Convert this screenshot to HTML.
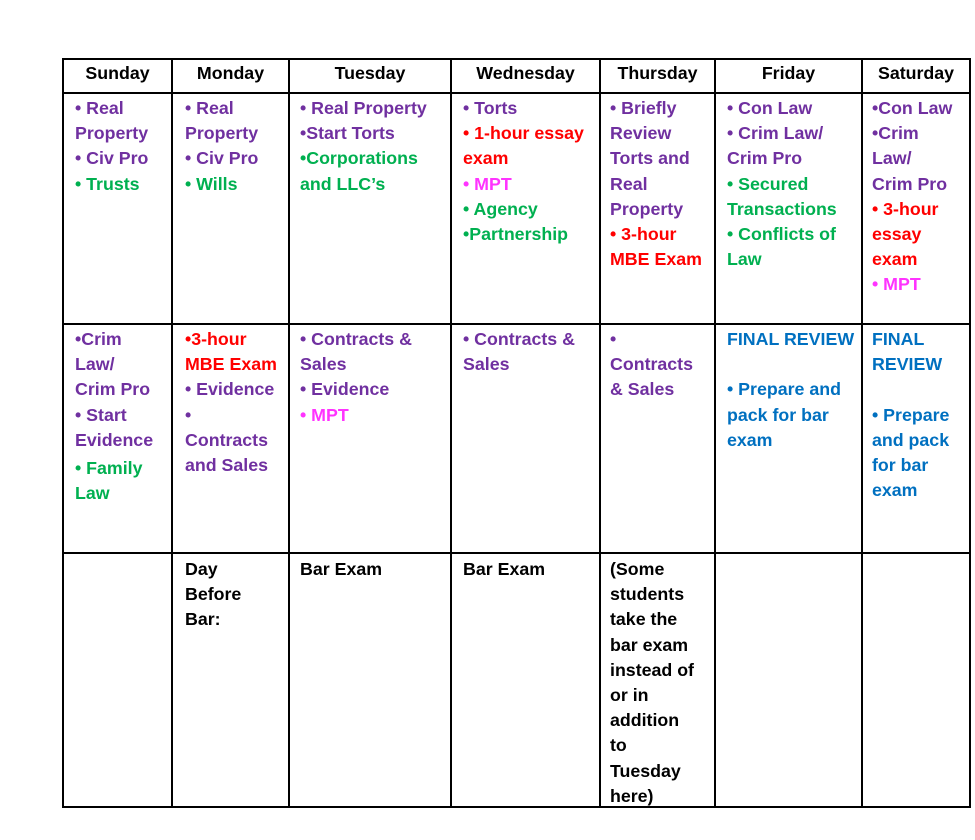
<!DOCTYPE html>
<html><head><style>
body{margin:0;width:975px;height:840px;background:#fff;position:relative;font-family:"Liberation Sans",Arial,sans-serif;font-weight:bold;font-size:17.8px;overflow:hidden}
.h{position:absolute;top:61px;height:33px;line-height:24px;text-align:center;color:#000}
.l{position:absolute;background:#000}
.c{position:absolute;line-height:25.2px;white-space:nowrap}
.p{color:#7030a0}.g{color:#00b050}.r{color:#ff0000}.m{color:#ff33ff}.b{color:#0070c0}.k{color:#000}
</style></head><body>
<div class="l" style="left:62px;top:58px;width:909px;height:2px"></div>
<div class="l" style="left:62px;top:92px;width:909px;height:2px"></div>
<div class="l" style="left:62px;top:323px;width:909px;height:2px"></div>
<div class="l" style="left:62px;top:552px;width:909px;height:2px"></div>
<div class="l" style="left:62px;top:806px;width:909px;height:2px"></div>
<div class="l" style="left:62px;top:58px;width:2px;height:750px"></div>
<div class="l" style="left:171px;top:58px;width:2px;height:750px"></div>
<div class="l" style="left:288px;top:58px;width:2px;height:750px"></div>
<div class="l" style="left:450px;top:58px;width:2px;height:750px"></div>
<div class="l" style="left:599px;top:58px;width:2px;height:750px"></div>
<div class="l" style="left:714px;top:58px;width:2px;height:750px"></div>
<div class="l" style="left:861px;top:58px;width:2px;height:750px"></div>
<div class="l" style="left:969px;top:58px;width:2px;height:750px"></div>

<div class="h" style="left:64px;width:107px">Sunday</div>
<div class="h" style="left:173px;width:115px">Monday</div>
<div class="h" style="left:290px;width:160px">Tuesday</div>
<div class="h" style="left:452px;width:147px">Wednesday</div>
<div class="h" style="left:601px;width:113px">Thursday</div>
<div class="h" style="left:716px;width:145px">Friday</div>
<div class="h" style="left:863px;width:106px">Saturday</div>

<div class="c" style="left:75px;top:96px"><span class="p">• Real<br>Property<br>• Civ Pro</span><br><span class="g">• Trusts</span></div>
<div class="c" style="left:185px;top:96px"><span class="p">• Real<br>Property<br>• Civ Pro</span><br><span class="g">• Wills</span></div>
<div class="c" style="left:300px;top:96px"><span class="p">• Real Property<br>•Start Torts</span><br><span class="g">•Corporations<br>and LLC’s</span></div>
<div class="c" style="left:463px;top:96px"><span class="p">• Torts</span><br><span class="r">• 1-hour essay<br>exam</span><br><span class="m">• MPT</span><br><span class="g">• Agency<br>•Partnership</span></div>
<div class="c" style="left:610px;top:96px"><span class="p">• Briefly<br>Review<br>Torts and<br>Real<br>Property</span><br><span class="r">• 3-hour<br>MBE Exam</span></div>
<div class="c" style="left:727px;top:96px"><span class="p">• Con Law<br>• Crim Law/<br>Crim Pro</span><br><span class="g">• Secured<br>Transactions<br>• Conflicts of<br>Law</span></div>
<div class="c" style="left:872px;top:96px"><span class="p">•Con Law<br>•Crim<br>Law/<br>Crim Pro</span><br><span class="r">• 3-hour<br>essay<br>exam</span><br><span class="m">• MPT</span></div>

<div class="c" style="left:75px;top:327px"><span class="p">•Crim<br>Law/<br>Crim Pro<br>• Start<br>Evidence</span><br><span class="g" style="display:inline-block;margin-top:3px">• Family<br>Law</span></div>
<div class="c" style="left:185px;top:327px"><span class="r">•3-hour<br>MBE Exam</span><br><span class="p">• Evidence<br>•<br>Contracts<br>and Sales</span></div>
<div class="c" style="left:300px;top:327px"><span class="p">• Contracts &amp;<br>Sales<br>• Evidence</span><br><span class="m">• MPT</span></div>
<div class="c" style="left:463px;top:327px"><span class="p">• Contracts &amp;<br>Sales</span></div>
<div class="c" style="left:610px;top:327px"><span class="p">•<br>Contracts<br>&amp; Sales</span></div>
<div class="c b" style="left:727px;top:327px">FINAL REVIEW<br>&nbsp;<br>• Prepare and<br>pack for bar<br>exam</div>
<div class="c b" style="left:872px;top:327px">FINAL<br>REVIEW<br>&nbsp;<br>• Prepare<br>and pack<br>for bar<br>exam</div>

<div class="c k" style="left:185px;top:557px">Day<br>Before<br>Bar:</div>
<div class="c k" style="left:300px;top:557px">Bar Exam</div>
<div class="c k" style="left:463px;top:557px">Bar Exam</div>
<div class="c k" style="left:610px;top:557px">(Some<br>students<br>take the<br>bar exam<br>instead of<br>or in<br>addition<br>to<br>Tuesday<br>here)</div>
</body></html>
